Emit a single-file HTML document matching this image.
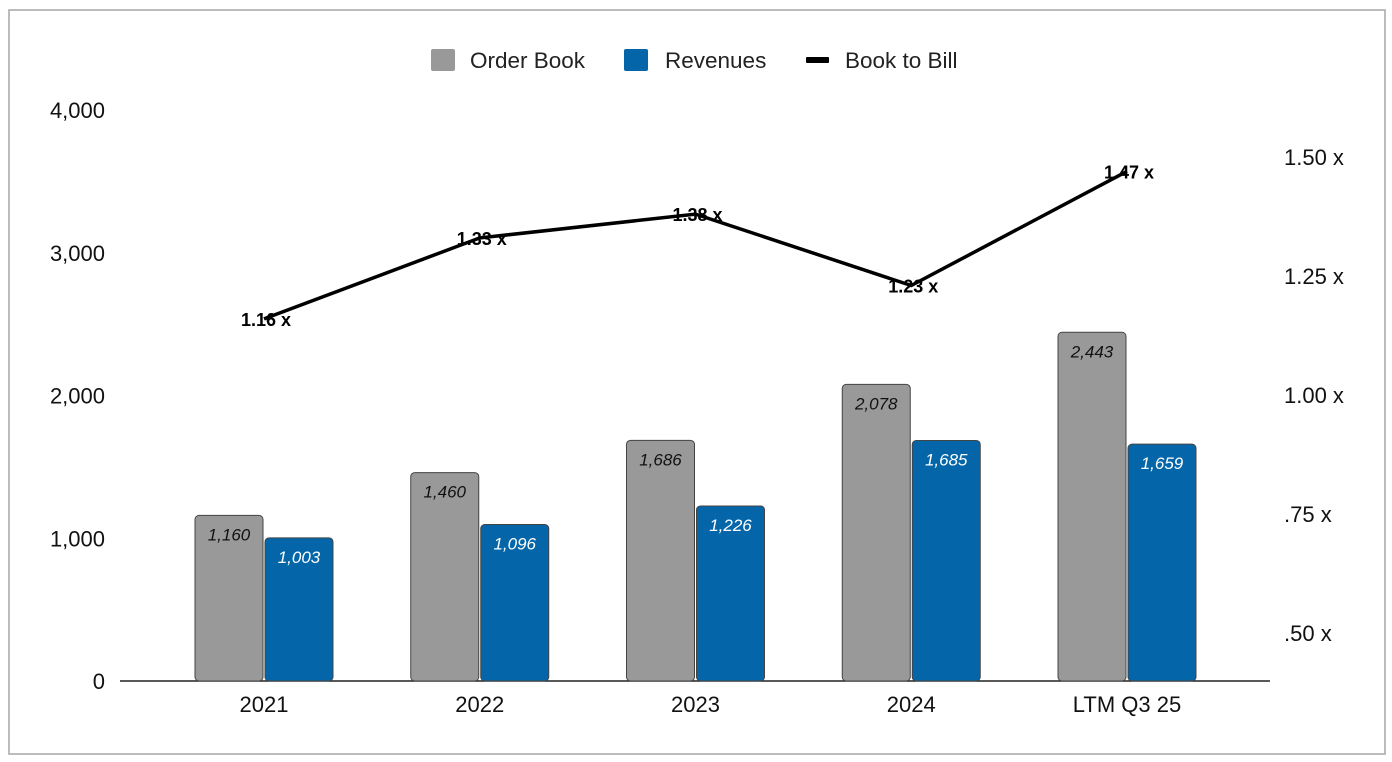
<!DOCTYPE html>
<html><head><meta charset="utf-8"><style>
body{margin:0;background:#fff;font-family:"Liberation Sans",sans-serif;}
svg{display:block}
</style></head><body>
<svg id="chart" width="1392" height="762">
<rect x="9" y="10" width="1376" height="744" fill="#fff" stroke="#a6a6a6" stroke-width="1.5"/>
<g id="legend">
<rect x="431" y="49" width="24" height="22" rx="2" fill="#999"/>
<text x="470" y="68" font-size="22.5" fill="#222">Order Book</text>
<rect x="624" y="49" width="24" height="22" rx="2" fill="#0466a8"/>
<text x="665" y="68" font-size="22.5" fill="#222">Revenues</text>
<rect x="806" y="57" width="23" height="6" rx="1" fill="#000"/>
<text x="845" y="68" font-size="22.5" fill="#222">Book to Bill</text>
</g>
<g id="axes"></g>
<g id="bars"></g>
<g id="line"></g>
</svg>
<script>
const categories=["2021","2022","2023","2024","LTM Q3 25"];
const orderBook=[1160,1460,1686,2078,2443];
const revenues=[1003,1096,1226,1685,1659];
const bookToBill=[1.16,1.33,1.38,1.23,1.47];
const leftTicks=[0,1000,2000,3000,4000];
const rightTicks=[0.5,0.75,1.0,1.25,1.5];
const rightTickLabels=[".50 x",".75 x","1.00 x","1.25 x","1.50 x"];
const NS="http://www.w3.org/2000/svg";
function yL(v){return 681-v*(571/4000);}
function yR(v){return 157+(1.5-v)/0.25*119;}
function xC(i){return 264+i*215.75;}
function mk(tag,attrs,parent,txt){const e=document.createElementNS(NS,tag);for(const k in attrs)e.setAttribute(k,attrs[k]);if(txt!==undefined)e.textContent=txt;parent.appendChild(e);return e;}
const axes=document.getElementById('axes'),bars=document.getElementById('bars'),line=document.getElementById('line');
leftTicks.forEach(function(t){
 const e=mk('text',{x:105,y:yL(t)+8,'font-size':22,'text-anchor':'end',fill:'#111'},axes,t.toLocaleString('en-US'));
 
 
});
rightTicks.forEach(function(t,i){
 const e=mk('text',{x:1284,y:yR(t)+8,'font-size':22,fill:'#111'},axes,rightTickLabels[i]);
 
 
});
const base=mk('line',{x1:120,x2:1270,y1:681,y2:681,stroke:'#222','stroke-width':1.5},axes);


categories.forEach(function(c,i){
 const e=mk('text',{x:xC(i),y:712,'font-size':22,'text-anchor':'middle',fill:'#111'},axes,c);
 
 
 const w=68;
 [[orderBook[i],'#999',xC(i)-w-1,'#111','order-book-bar'],[revenues[i],'#0466a8',xC(i)+1,'#fff','revenue-bar']].forEach(function(s){
  const y=yL(s[0]);
  const r=mk('rect',{x:s[2],y:y,width:w,height:681-y,rx:4,fill:s[1],stroke:'#444','stroke-width':1},bars);
  
  
  const t=mk('text',{x:s[2]+w/2,y:y+25,'font-size':17,'font-style':'italic','text-anchor':'middle',fill:s[3]},bars,s[0].toLocaleString('en-US'));
  
  
 });
});
const pts=bookToBill.map(function(v,i){return xC(i)+','+yR(v);}).join(' ');
const pl=mk('polyline',{points:pts,fill:'none',stroke:'#000','stroke-width':3.5},line);


bookToBill.forEach(function(v,i){
 const t=mk('text',{x:xC(i)+2,y:yR(v)+7,'font-size':18,'font-weight':'bold','text-anchor':'middle',fill:'#000'},line,v.toFixed(2)+' x');
 
 
});
</script>
</body></html>
